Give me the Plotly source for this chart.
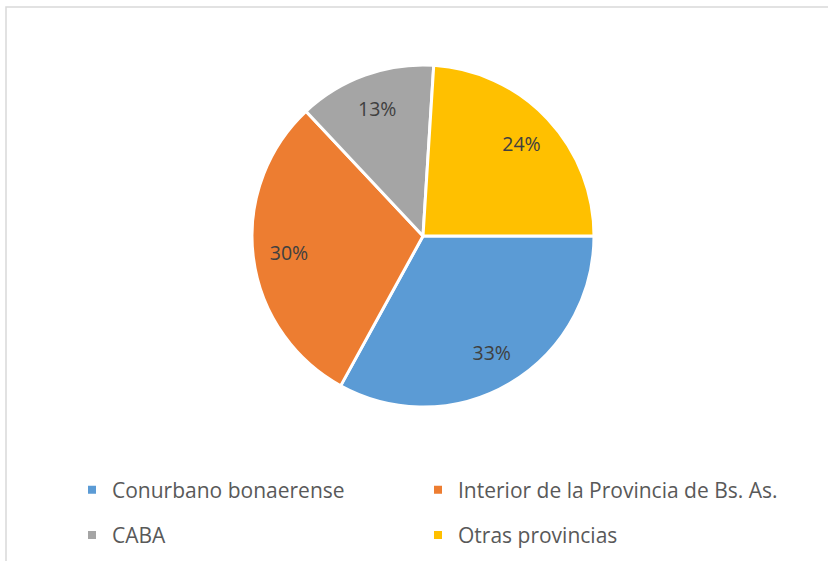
import plotly.graph_objects as go

categories = ["Conurbano bonaerense", "Interior de la Provincia de Bs. As.", "CABA", "Otras provincias"]
values = [33, 30, 13, 24]
colors = ["#5B9BD5", "#ED7D31", "#A5A5A5", "#FFC000"]
title_text = "Gráfico N° 6: ubicación geográfica de procedencia según"

W, H = 828, 561
fig = go.Figure()

dom = dict(x=[252 / W, 594 / W], y=[1 - 407 / H, 1 - 65 / H])

# filled pie (no text)
fig.add_trace(go.Pie(
    labels=categories, values=values, sort=False, direction="clockwise", rotation=90,
    marker=dict(colors=colors, line=dict(color="white", width=3)),
    textinfo="none", domain=dom, showlegend=False, hoverinfo="label+percent",
))
# transparent ring carrying the percentage labels (places them near the rim)
fig.add_trace(go.Pie(
    labels=categories, values=values, sort=False, direction="clockwise", rotation=90,
    hole=0.58,
    marker=dict(colors=["rgba(0,0,0,0)"] * 4, line=dict(width=0)),
    texttemplate="%{percent:.0%}", textposition="inside",
    insidetextorientation="horizontal",
    textfont=dict(family="Open Sans", size=19.5, color="#404040"),
    domain=dom, showlegend=False, hoverinfo="skip",
))

# legend: column 1 = items 0,2 ; column 2 = items 1,3
for i, (name, col) in enumerate(zip(categories, colors)):
    lg = "legend" if i % 2 == 0 else "legend2"
    fig.add_trace(go.Scatter(
        x=[None], y=[None], mode="markers", name=name,
        marker=dict(symbol="square", size=8, color=col),
        legend=lg, legendgroup=f"g{i}", showlegend=True, hoverinfo="skip",
    ))

legend_common = dict(
    orientation="v", xanchor="left", yanchor="middle", y=1 - 512.5 / H,
    tracegroupgap=15,
    font=dict(family="Open Sans", size=21, color="#595959"),
    bgcolor="rgba(0,0,0,0)", itemclick=False, itemdoubleclick=False,
)

fig.update_layout(
    width=W, height=H,
    margin=dict(l=0, r=0, t=0, b=0),
    paper_bgcolor="white", plot_bgcolor="white",
    xaxis=dict(visible=False), yaxis=dict(visible=False),
    legend=dict(x=72 / W, **legend_common),
    legend2=dict(x=418 / W, **legend_common),
    shapes=[dict(type="rect", xref="paper", yref="paper",
                 x0=6 / W, x1=1.02, y0=-0.02, y1=1 - 7 / H,
                 line=dict(color="#D9D9D9", width=1.5), fillcolor="rgba(0,0,0,0)", layer="below")],
    annotations=[dict(text=title_text, xref="paper", yref="paper", x=4 / W, y=1 - 2.2 / H,
                      xanchor="left", yanchor="bottom", showarrow=False,
                      font=dict(family="Liberation Serif", size=24, color="black"))],
)

fig.write_html("out.html")
